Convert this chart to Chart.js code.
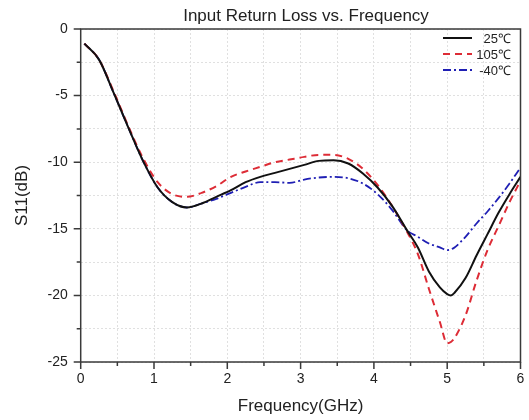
<!DOCTYPE html>
<html>
<head>
<meta charset="utf-8">
<script src="https://cdn.jsdelivr.net/npm/chart.js@4.4.1/dist/chart.umd.min.js"></script>
<style>
  html, body { margin: 0; padding: 0; background: #fff; }
  #wrap { width: 529px; height: 420px; }
</style>
</head>
<body>
<div id="wrap"><canvas id="s11Chart" width="529" height="420"></canvas></div>
<script>
(function () {
  'use strict';

  // frequency points (GHz)
  var freq = [0.05, 0.25, 0.45, 0.65, 0.85, 1.05, 1.25, 1.45, 1.65, 1.85, 2.05, 2.25, 2.45, 2.65, 2.85,
    3.05, 3.25, 3.45, 3.65, 3.85, 4.05, 4.25, 4.45, 4.6, 4.75, 4.9, 5.0, 5.05, 5.1, 5.25, 5.4, 5.55, 5.7, 5.85, 6.0];

  // S11 (dB) at each temperature
  var s11_25 = [-1.1, -2.3, -4.8, -7.4, -9.9, -11.9, -13.0, -13.4, -13.1, -12.6, -12.1, -11.5, -11.1, -10.8, -10.5,
    -10.2, -9.9, -9.85, -10.1, -10.85, -11.9, -13.3, -15.1, -16.4, -18.2, -19.4, -19.9, -20.0, -19.8, -18.7, -17.0, -15.4, -13.8, -12.4, -11.1];
  var s11_105 = [-1.1, -2.3, -4.7, -7.3, -9.7, -11.5, -12.4, -12.6, -12.3, -11.8, -11.1, -10.7, -10.35, -10.0, -9.8,
    -9.6, -9.45, -9.45, -9.75, -10.5, -11.7, -13.3, -15.2, -16.9, -19.5, -22.0, -23.6, -23.5, -23.2, -21.5, -18.9, -16.6, -14.8, -13.0, -11.4];
  var s11_m40 = [-1.1, -2.3, -4.8, -7.4, -9.9, -11.9, -13.0, -13.4, -13.1, -12.75, -12.3, -11.85, -11.5, -11.5, -11.55,
    -11.3, -11.15, -11.1, -11.2, -11.6, -12.4, -13.6, -15.1, -15.6, -16.1, -16.4, -16.6, -16.55, -16.4, -15.6, -14.6, -13.7, -12.7, -11.6, -10.4];

  var seriesNames = ['25\u2103', '105\u2103', '-40\u2103'];
  var xTicks = [0, 1, 2, 3, 4, 5, 6];
  var yTicks = [0, -5, -10, -15, -20, -25];

  function pts(ys) {
    return freq.map(function (f, i) { return { x: f, y: ys[i] }; });
  }

  var FONT = 'Arial, "Liberation Sans", sans-serif';

  // frame, outward ticks, title and legend drawn on top
  var decorPlugin = {
    id: 'decor',
    afterDraw: function (chart) {
      var ctx = chart.ctx;
      var a = chart.chartArea;
      var xs = chart.scales.x, ys = chart.scales.y;
      var v, p, major;
      ctx.save();
      ctx.strokeStyle = '#3a3a3a';
      ctx.lineWidth = 1.5;
      ctx.strokeRect(a.left, a.top, a.right - a.left, a.bottom - a.top);
      ctx.beginPath();
      for (v = 0; v <= 6.001; v += 0.5) {
        p = xs.getPixelForValue(v);
        major = Math.abs(v - Math.round(v)) < 1e-6;
        ctx.moveTo(p, a.bottom);
        ctx.lineTo(p, a.bottom + (major ? 7 : 4));
      }
      for (v = 0; v >= -25.001; v -= 2.5) {
        p = ys.getPixelForValue(v);
        major = Math.abs(v % 5) < 1e-6;
        ctx.moveTo(a.left, p);
        ctx.lineTo(a.left - (major ? 7 : 4), p);
      }
      ctx.stroke();

      // title
      ctx.fillStyle = '#222';
      ctx.font = '17px ' + FONT;
      ctx.textAlign = 'center';
      ctx.textBaseline = 'middle';
      ctx.fillText('Input Return Loss vs. Frequency', 306, 16);

      // legend
      ctx.font = '13px ' + FONT;
      ctx.textAlign = 'right';
      chart.data.datasets.forEach(function (ds, i) {
        var y = 38 + i * 16;
        ctx.strokeStyle = ds.borderColor;
        ctx.lineWidth = ds.borderWidth;
        ctx.setLineDash(ds.borderDash || []);
        ctx.beginPath();
        ctx.moveTo(443, y);
        ctx.lineTo(472, y);
        ctx.stroke();
        ctx.setLineDash([]);
        ctx.fillStyle = '#222';
        ctx.fillText(ds.label, 511, y + 1);
      });
      ctx.restore();
    }
  };

  new Chart(document.getElementById('s11Chart'), {
    type: 'line',
    data: {
      datasets: [{
        label: seriesNames[0],
        data: pts(s11_25),
        borderColor: '#111111',
        borderWidth: 2,
        borderDash: [],
        pointRadius: 0,
        cubicInterpolationMode: 'monotone',
        fill: false
      }, {
        label: seriesNames[1],
        data: pts(s11_105),
        borderColor: '#dd2c36',
        borderWidth: 2,
        borderDash: [7, 5],
        pointRadius: 0,
        cubicInterpolationMode: 'monotone',
        fill: false
      }, {
        label: seriesNames[2],
        data: pts(s11_m40),
        borderColor: '#1f1fb4',
        borderWidth: 1.8,
        borderDash: [8, 3, 2, 3],
        pointRadius: 0,
        cubicInterpolationMode: 'monotone',
        fill: false
      }]
    },
    options: {
      responsive: false,
      animation: false,
      devicePixelRatio: 1,
      layout: { padding: { left: 0, right: 8.5, top: 29, bottom: 0 } },
      plugins: {
        legend: { display: false },
        title: { display: false },
        tooltip: { enabled: false }
      },
      scales: {
        x: {
          type: 'linear',
          min: 0,
          max: 6,
          afterFit: function (s) { s.height = 58; },
          afterBuildTicks: function (s) {
            var t = [];
            for (var v = 0; v <= 6.001; v += 0.5) t.push({ value: v });
            s.ticks = t;
          },
          ticks: {
            padding: 0,
            color: '#222',
            font: { size: 14, family: FONT },
            autoSkip: false,
            maxRotation: 0,
            callback: function (v) { return xTicks.indexOf(v) >= 0 ? String(v) : ''; }
          },
          grid: { color: '#e0e0e0', drawTicks: true, tickLength: 9, tickColor: 'rgba(0,0,0,0)', lineWidth: 1 },
          border: { display: false, dash: [2, 2] },
          title: {
            display: true,
            text: 'Frequency(GHz)',
            color: '#222',
            font: { size: 17, family: FONT },
            padding: { top: 0, bottom: 3 }
          }
        },
        y: {
          type: 'linear',
          min: -25,
          max: 0,
          afterFit: function (s) { s.width = 80.7; },
          afterBuildTicks: function (s) {
            var t = [];
            for (var v = -25; v <= 0.001; v += 2.5) t.push({ value: v });
            s.ticks = t;
          },
          ticks: {
            padding: 0,
            color: '#222',
            font: { size: 14, family: FONT },
            autoSkip: false,
            callback: function (v) { return yTicks.indexOf(v) >= 0 ? String(v) : ''; }
          },
          grid: { color: '#e0e0e0', drawTicks: true, tickLength: 13, tickColor: 'rgba(0,0,0,0)', lineWidth: 1 },
          border: { display: false, dash: [2, 2] },
          title: {
            display: true,
            text: 'S11(dB)',
            color: '#222',
            font: { size: 17, family: FONT },
            padding: { top: 12, bottom: 0 }
          }
        }
      }
    },
    plugins: [decorPlugin]
  });
})();
</script>
</body>
</html>
